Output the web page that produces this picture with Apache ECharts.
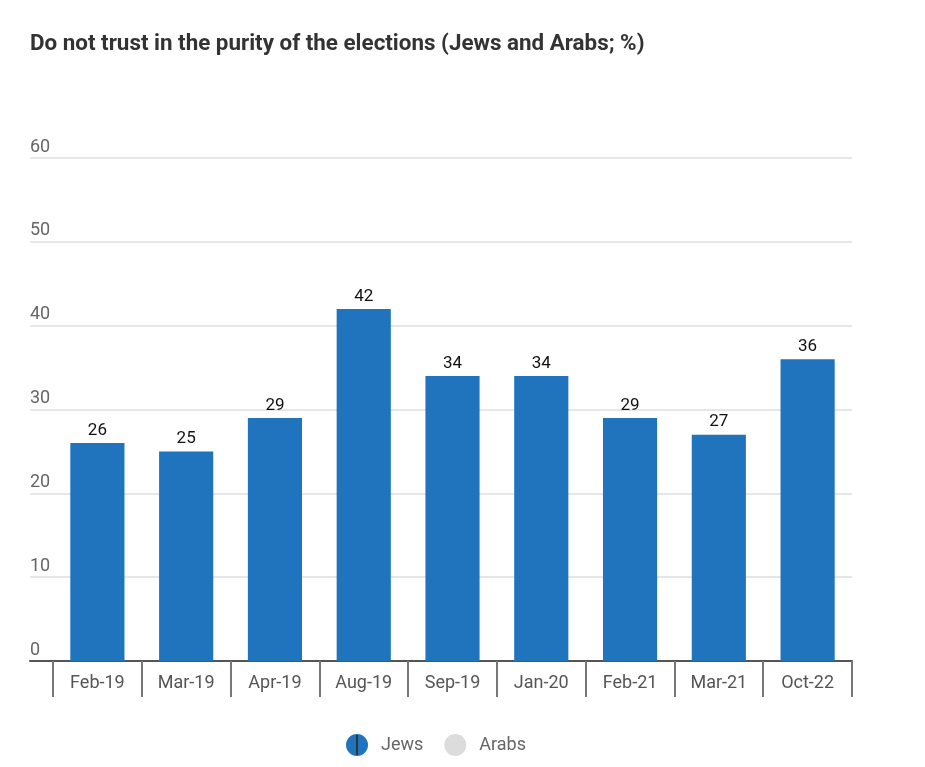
<!DOCTYPE html>
<html>
<head>
<meta charset="utf-8">
<script src="https://cdn.jsdelivr.net/npm/echarts@6/dist/echarts.min.js"></script>
<style>html,body{margin:0;padding:0;background:#fff;}#c{width:925px;height:767px;}</style>
</head>
<body>
<div id="c"></div>
<script>
var titleText = 'Do not trust in the purity of the elections (Jews and Arabs; %)';
var categories = ['Feb-19','Mar-19','Apr-19','Aug-19','Sep-19','Jan-20','Feb-21','Mar-21','Oct-22'];
var jews = [26, 25, 29, 42, 34, 34, 29, 27, 36];
var arabs = [];
var yTicks = [0, 10, 20, 30, 40, 50, 60];

var FONT = 'Roboto, "Noto Sans", sans-serif';
var chart = echarts.init(document.getElementById('c'), null, {renderer: 'canvas'});
chart.setOption({
  animation: false,
  backgroundColor: '#fff',
  textStyle: {fontFamily: FONT},
  title: {
    text: titleText, left: 25, top: 28,
    textStyle: {fontFamily: FONT, fontSize: 22.4, fontWeight: 'bold', color: '#333'}
  },
  legend: {
    top: 729, left: 341, icon: 'circle', itemWidth: 22, itemHeight: 22, itemGap: 21,
    textStyle: {fontFamily: FONT, fontSize: 18, color: '#666', padding: [0, 0, 0, 8]},
    data: ['Jews', 'Arabs']
  },
  graphic: [
    {type: 'line', z: 100, zlevel: 1, shape: {x1: 357, y1: 735, x2: 357, y2: 755}, style: {stroke: '#333', lineWidth: 2}, silent: true}
  ],
  grid: [
    {left: 30, right: 73, top: 158, bottom: 106},
    {left: 53, right: 73, top: 158, bottom: 106}
  ],
  xAxis: [
    {gridIndex: 0, type: 'value', min: 0, max: 1, show: true,
     axisLine: {show: true, onZero: false, lineStyle: {color: '#555', width: 2}},
     axisTick: {show: false}, axisLabel: {show: false}, splitLine: {show: false}},
    {gridIndex: 1, type: 'category', data: categories,
     axisLine: {show: false},
     axisTick: {show: true, length: 36, lineStyle: {color: '#777', width: 2}},
     axisLabel: {fontFamily: FONT, fontSize: 18, color: '#555', margin: 13},
     splitLine: {show: false}}
  ],
  yAxis: [
    {gridIndex: 0, type: 'value', min: yTicks[0], max: yTicks[yTicks.length-1], interval: 10,
     axisLine: {show: false}, axisTick: {show: false},
     axisLabel: {inside: true, margin: 0, verticalAlign: 'bottom', padding: [0,0,2,0],
                 fontFamily: FONT, fontSize: 18, color: '#666'},
     splitLine: {show: true, lineStyle: {color: '#e6e6e6', width: 2}}},
    {gridIndex: 1, type: 'value', min: yTicks[0], max: yTicks[yTicks.length-1], interval: 10,
     show: false, splitLine: {show: false}}
  ],
  series: [
    {name: 'Jews', type: 'bar', xAxisIndex: 1, yAxisIndex: 1, data: jews,
     barWidth: '61%', itemStyle: {color: '#1f74bd'},
     label: {show: true, position: 'top', distance: 4, fontFamily: FONT, fontSize: 17, color: '#111'}},
    {name: 'Arabs', type: 'bar', xAxisIndex: 0, yAxisIndex: 0, data: arabs,
     itemStyle: {color: '#dcdcdc'}}
  ]
});
</script>
</body>
</html>
